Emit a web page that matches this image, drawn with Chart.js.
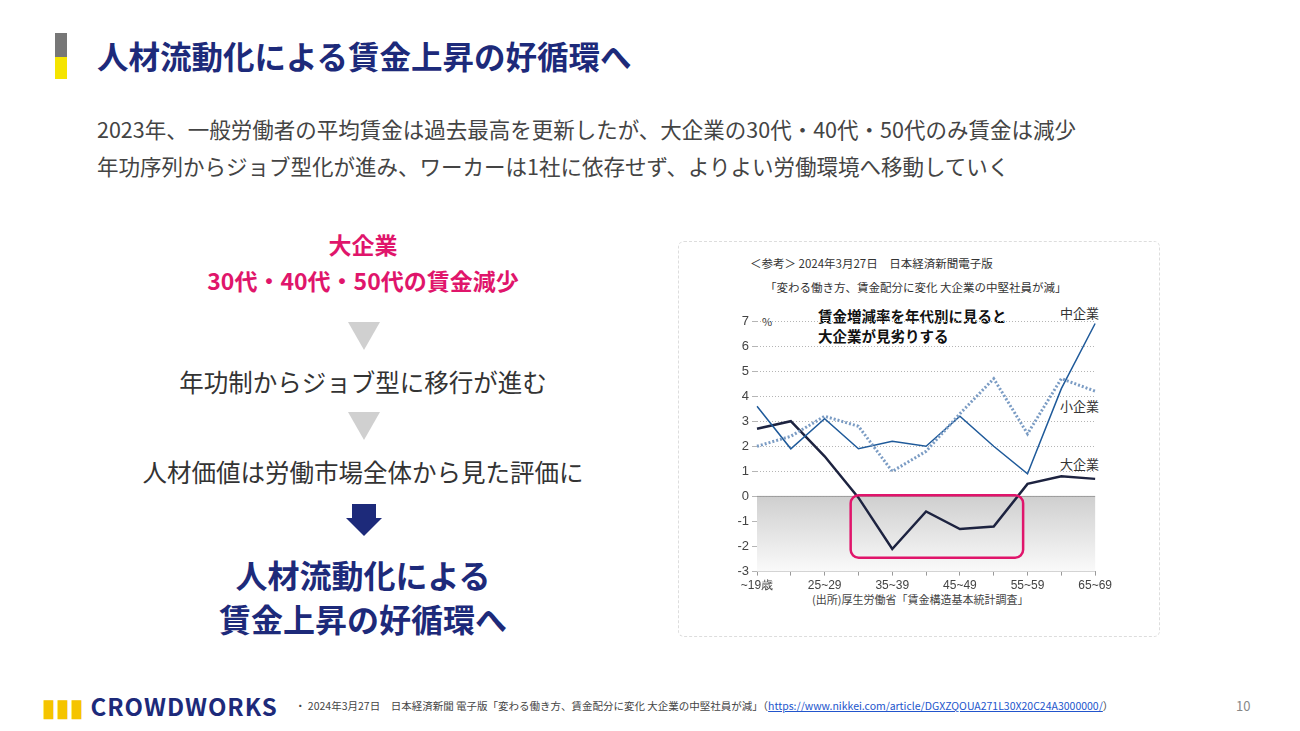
<!DOCTYPE html>
<html><head><meta charset="utf-8">
<script src="https://cdn.jsdelivr.net/npm/chart.js"></script>
<style>
body{margin:0;width:1300px;height:731px;background:#fff;font-family:"Noto Sans CJK JP","Noto Sans",sans-serif;position:relative;overflow:hidden}
.a{position:absolute;white-space:nowrap}
</style></head><body>
<div class="a" style="left:55px;top:33px;width:12px;height:24px;background:#777"></div>
<div class="a" style="left:55px;top:57px;width:12px;height:22px;background:#f5e400"></div>
<div class="a" style="left:97px;top:32px;font-size:31.5px;font-weight:bold;color:#1d2a7a">人材流動化による賃金上昇の好循環へ</div>
<div class="a" style="left:97px;top:113px;font-size:21.5px;color:#444">2023年、一般労働者の平均賃金は過去最高を更新したが、大企業の30代・40代・50代のみ賃金は減少</div>
<div class="a" style="left:97px;top:150px;font-size:21.5px;color:#444">年功序列からジョブ型化が進み、ワーカーは1社に依存せず、よりよい労働環境へ移動していく</div>
<div class="a" style="left:163px;top:226px;width:400px;text-align:center;font-size:23px;font-weight:bold;color:#e0156b;line-height:36px">大企業<br>30代・40代・50代の賃金減少</div>
<div class="a" style="left:348px;top:322px;width:0;height:0;border-left:16px solid transparent;border-right:16px solid transparent;border-top:28px solid #d0d0d0"></div>
<div class="a" style="left:113px;top:364px;width:500px;text-align:center;font-size:24.5px;color:#333">年功制からジョブ型に移行が進む</div>
<div class="a" style="left:348px;top:412px;width:0;height:0;border-left:16px solid transparent;border-right:16px solid transparent;border-top:28px solid #d0d0d0"></div>
<div class="a" style="left:113px;top:454px;width:500px;text-align:center;font-size:24.5px;color:#333">人材価値は労働市場全体から見た評価に</div>
<div class="a" style="left:352px;top:504px;width:24px;height:14px;background:#1d2a7a"></div>
<div class="a" style="left:346px;top:518px;width:0;height:0;border-left:18px solid transparent;border-right:18px solid transparent;border-top:18px solid #1d2a7a"></div>
<div class="a" style="left:113px;top:552px;width:500px;text-align:center;font-size:32px;font-weight:bold;color:#1d2a7a;line-height:44px">人材流動化による<br>賃金上昇の好循環へ</div>
<div class="a" style="left:678px;top:241px;width:480px;height:394px;border:1px dashed #ddd;border-radius:6px"></div>
<div class="a" style="left:750px;top:255px;font-size:11.5px;color:#333">＜参考＞ 2024年3月27日　日本経済新聞電子版</div>
<div class="a" style="left:765px;top:279px;font-size:11.5px;color:#333">「変わる働き方、賃金配分に変化 大企業の中堅社員が減」</div>
<div class="a" style="left:818px;top:306px;font-size:14.5px;font-weight:bold;color:#111;line-height:20px">賃金増減率を年代別に見ると<br>大企業が見劣りする</div>
<div class="a" style="left:762px;top:313px;font-size:11px;color:#333">%</div>
<div class="a" style="left:1060px;top:303px;font-size:13px;color:#333">中企業</div>
<div class="a" style="left:1060px;top:396px;font-size:13px;color:#333">小企業</div>
<div class="a" style="left:1060px;top:454px;font-size:13px;color:#333">大企業</div>
<div class="a" style="left:812px;top:591px;font-size:11px;color:#444">(出所)厚生労働省「賃金構造基本統計調査」</div>
<div class="a" style="left:720px;top:305px;width:395px;height:291px"><canvas id="c"></canvas></div>
<div class="a" style="left:42px;top:688px;font-size:24px;font-weight:bold;color:#1d2a7a;letter-spacing:1px"><span style="color:#f5c400">▮▮▮</span> CROWDWORKS</div>
<div class="a" style="left:295px;top:698px;font-size:10.5px;color:#444">・ 2024年3月27日　日本経済新聞 電子版「変わる働き方、賃金配分に変化 大企業の中堅社員が減」（<span style="color:#2255cc;text-decoration:underline">https://www.nikkei.com/article/DGXZQOUA271L30X20C24A3000000/</span>）</div>
<div class="a" style="left:1236px;top:696px;font-size:13px;color:#888">10</div>
<script>
const ageGroups = ["~19歳","20~24","25~29","30~34","35~39","40~44","45~49","50~54","55~59","60~64","65~69"];
const largeCo = [2.7, 3.0, 1.6, -0.05, -2.1, -0.6, -1.3, -1.2, 0.5, 0.8, 0.7];
const midCo = [3.6, 1.9, 3.1, 1.9, 2.2, 2.0, 3.2, 2.0, 0.9, 4.3, 6.9];
const smallCo = [2.0, 2.4, 3.2, 2.8, 1.0, 1.8, 3.3, 4.7, 2.5, 4.7, 4.2];

const decor = {
    id: "decor",
    beforeDatasetsDraw(chart) {
        const { ctx, scales: { x, y }, chartArea } = chart;
        const y0 = y.getPixelForValue(0), y1 = y.getPixelForValue(-3);
        let g = ctx.createLinearGradient(0, y0, 0, y1);
        g.addColorStop(0, "#cfcfcf");
        g.addColorStop(1, "#fafafa");
        ctx.save();
        ctx.fillStyle = g;
        ctx.fillRect(chartArea.left, y0, chartArea.right - chartArea.left, y1 - y0);
        ctx.strokeStyle = "#999";
        ctx.beginPath(); ctx.moveTo(chartArea.left, y0); ctx.lineTo(chartArea.right, y0); ctx.stroke();
        ctx.restore();
    },
    afterDatasetsDraw(chart) {
        const { ctx, scales: { x, y } } = chart;
        const l = x.getPixelForValue(2.77), r = x.getPixelForValue(7.87);
        const t = y.getPixelForValue(0.05), b = y.getPixelForValue(-2.45);
        ctx.save();
        ctx.strokeStyle = "#e0156b";
        ctx.lineWidth = 2.5;
        ctx.beginPath();
        ctx.roundRect(l, t, r - l, b - t, 8);
        ctx.stroke();
        ctx.restore();
    }
};

new Chart(document.getElementById("c"), {
    type: "line",
    data: {
        labels: ageGroups,
        datasets: [
            { label: "小企業", data: smallCo, borderColor: "#7b9cc4", borderWidth: 3, borderDash: [2, 2], pointRadius: 0, tension: 0 },
            { label: "中企業", data: midCo, borderColor: "#1f5a9a", borderWidth: 1.5, pointRadius: 0, tension: 0 },
            { label: "大企業", data: largeCo, borderColor: "#1d2340", borderWidth: 2.5, pointRadius: 0, tension: 0 }
        ]
    },
    options: {
        responsive: true,
        maintainAspectRatio: false,
        animation: false,
        layout: { padding: { left: 0, right: 15, top: 16, bottom: 0 } },
        plugins: { legend: { display: false }, tooltip: { enabled: false } },
        scales: {
            x: {
                offset: false,
                grid: { display: true, drawOnChartArea: false, tickLength: 4, color: "#999" },
                border: { color: "#999" },
                ticks: {
                    autoSkip: false, maxRotation: 0, color: "#444", font: { size: 12 },
                    callback: function (v, i) { return i % 2 === 0 ? ageGroups[i] : ""; }
                }
            },
            y: {
                min: -3, max: 7,
                afterFit: function (s) { s.width = 37; },
                grid: { color: "#b5b5b5", tickLength: 5, drawTicks: true },
                border: { display: false, dash: [1, 2] },
                ticks: { stepSize: 1, color: "#444", font: { size: 13 } }
            }
        }
    },
    plugins: [decor]
});
</script>
</body></html>
